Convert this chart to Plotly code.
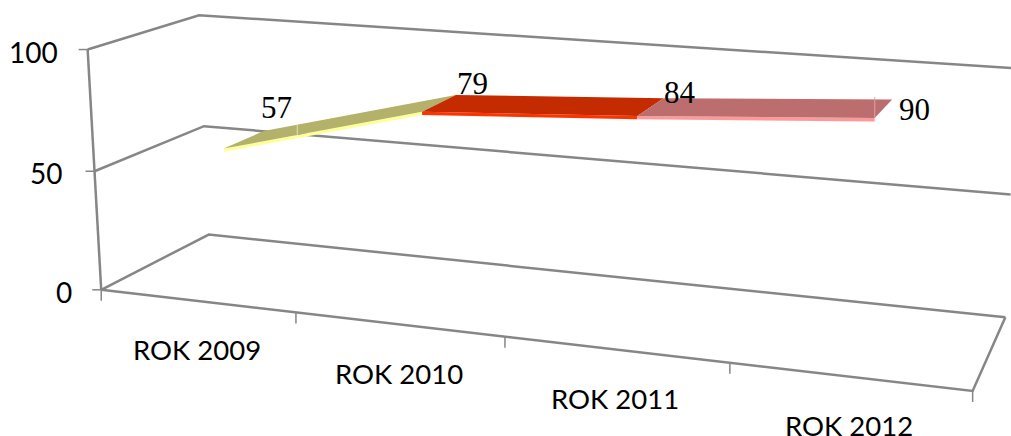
import numpy as np
import plotly.graph_objects as go

# ---- chart data ----
categories = ["ROK 2009", "ROK 2010", "ROK 2011", "ROK 2012"]
values = [57, 79, 84, 90]
value_ticks = [0, 50, 100]

# ---- styling ----
top_colors = ["#b3b16a", "#c42b00", "#bc6e6e"]
front_colors = ["#ffff99", "#ff3300", "#ff9999"]
frame_color = "#868686"
ribbon_x = [0.5, 1.5, 2.5, 3.52]
ribbon_depth = (0.304, 0.694)
ribbon_thickness = 1.3
label_offsets = [(13, -24), (17, -11), (16, -6), (27, 10)]
value_label_dx = [-27, -31, -28]

# Perspective camera: category position (0-4), depth (0-1), value (0-100) -> page pixel
CAMERA = np.array([
    [1.84596e+02, 1.28357e+02, -1.58319e-01, 1.01222e+02],
    [1.19188e+01, -3.19408e+01, -2.41546e+00, 2.89824e+02],
    [-3.41936e-02, 9.95843e-02, -2.56433e-04, 1.0],
])


def project(x, y, z):
    h = CAMERA @ np.array([x, y, z, 1.0])
    return h[0] / h[2], h[1] / h[2]


fig = go.Figure()


def pixel_line(xs, ys, color, width):
    fig.add_trace(go.Scatter(x=xs, y=ys, mode="lines", line=dict(color=color, width=width),
                             hoverinfo="skip", showlegend=False))


def frame_line(points, width=2.5):
    px = [project(*p) for p in points]
    pixel_line([p[0] for p in px], [p[1] for p in px], frame_color, width)


def polygon(points, color):
    px = [project(*p) for p in points]
    fig.add_trace(go.Scatter(x=[p[0] for p in px], y=[p[1] for p in px], mode="lines",
                             fill="toself", fillcolor=color, line=dict(width=0, color=color),
                             hoverinfo="skip", showlegend=False))


# walls, floor and value axis
n = len(categories)
for v in value_ticks:
    frame_line([(0, 0, v), (0, 1, v), (n, 1, v)])
    tick_x, tick_y = project(0, 0, v)
    pixel_line([tick_x - 9, tick_x], [tick_y, tick_y], frame_color, 1.5)
frame_line([(0, 0, 0), (n, 0, 0), (n, 1, 0)])
frame_line([(0, 0, 0), (0, 0, 100)])
for i in range(n + 1):
    tick_x, tick_y = project(i, 0, 0)
    pixel_line([tick_x, tick_x], [tick_y, tick_y + 11], frame_color, 1.5)

# ribbon
y_f, y_b = ribbon_depth
for i in range(n - 1):
    a, b = ribbon_x[i], ribbon_x[i + 1]
    polygon([(a, y_f, values[i]), (b, y_f, values[i + 1]),
             (b, y_f, values[i + 1] - ribbon_thickness), (a, y_f, values[i] - ribbon_thickness)],
            front_colors[i])
    polygon([(a, y_f, values[i]), (b, y_f, values[i + 1]),
             (b, y_b, values[i + 1]), (a, y_b, values[i])], top_colors[i])

# pale seams across the first and last ribbon pieces
seam_x, seam_y = project(ribbon_x[0] + 0.38 * (ribbon_x[1] - ribbon_x[0]), y_f,
                         values[0] + 0.38 * (values[1] - values[0]))
pixel_line([seam_x, seam_x], [seam_y, seam_y - 11], "#e2e1c0", 1)
seam_x, seam_y = project(ribbon_x[3], y_f, values[3])
pixel_line([seam_x, seam_x], [seam_y, seam_y - 21], "#d9a5a5", 1)

# texts
ann = []
for i, label in enumerate(categories):
    px, py = project(i + 0.5, 0, 0)
    ann.append(dict(x=px, y=py + 49, text=label, xanchor="center", yanchor="middle",
                    font=dict(family="Lato", size=27.5, color="#000000")))
for v, dx in zip(value_ticks, value_label_dx):
    px, py = project(0, 0, v)
    ann.append(dict(x=px + dx, y=py + 2, text=str(v), xanchor="right", yanchor="middle",
                    font=dict(family="Lato", size=28, color="#000000")))
for i, v in enumerate(values):
    px, py = project(i + 0.5, y_b, v)
    dx, dy = label_offsets[i]
    ann.append(dict(x=px + dx, y=py + dy, text=str(v), xanchor="center", yanchor="middle",
                    font=dict(family="Liberation Serif", size=31, color="#000000")))
for a in ann:
    a.update(xref="x", yref="y", showarrow=False)

fig.update_layout(
    width=1011, height=436, margin=dict(l=0, r=0, t=0, b=0),
    paper_bgcolor="white", plot_bgcolor="white", showlegend=False,
    xaxis=dict(visible=False, range=[0, 1011], fixedrange=True),
    yaxis=dict(visible=False, range=[436, 0], fixedrange=True),
    annotations=ann,
)
fig.write_html("out.html", post_script="document.body.style.margin='0';",
               config=dict(displayModeBar=False))
